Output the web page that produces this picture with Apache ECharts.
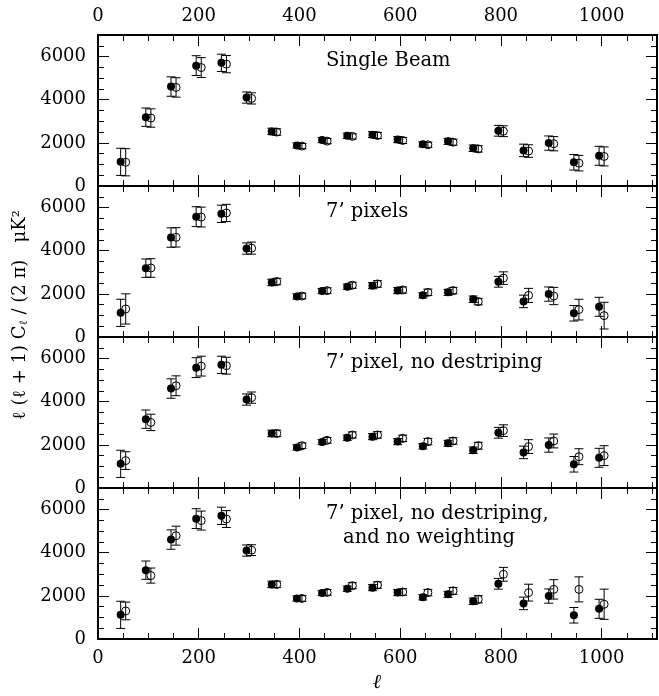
<!DOCTYPE html>
<html style="height:100%">
<head>
    <meta charset="utf-8">
    <title>Power spectrum panels</title>
    <script src="https://cdn.jsdelivr.net/npm/echarts@6/dist/echarts.min.js"></script>
</head>
<body style="height:100%;width:100%;margin:0;background:#fff;">
    <div id="main" style="width:659px;height:696px;margin:0"></div>
    <script type="text/javascript">
        // multipole bins
        var ells = [50, 100, 150, 200, 250, 300, 350, 400, 450, 500, 550, 600, 650, 700, 750, 800, 850, 900, 950, 1000];
        var dl = 5; // filled points drawn at l-5, open points at l+5

        // reference (filled) band powers, same in every panel
        var filledVals = [1120, 3190, 4610, 5580, 5710, 4100, 2530, 1880, 2130, 2330, 2380, 2150, 1930, 2070, 1750, 2560, 1650, 1990, 1100, 1400];
        var filledErr  = [630, 425, 450, 460, 400, 260, 150, 120, 120, 120, 140, 140, 120, 140, 150, 250, 290, 330, 360, 440];

        // open points, one array per panel
        var openBeam   = [1100, 3150, 4570, 5490, 5650, 4060, 2500, 1850, 2080, 2300, 2340, 2110, 1910, 2030, 1720, 2540, 1620, 1960, 1060, 1370];
        var openBeamErr = [630, 425, 450, 460, 400, 260, 150, 120, 120, 120, 140, 140, 120, 140, 150, 250, 290, 330, 360, 440];
        var openPix    = [1300, 3200, 4620, 5560, 5750, 4120, 2570, 1900, 2150, 2400, 2460, 2180, 2070, 2150, 1640, 2730, 1930, 1900, 1270, 990];
        var openPixErr = [700, 430, 450, 460, 400, 280, 150, 130, 130, 140, 150, 140, 150, 150, 150, 290, 325, 400, 480, 620];
        var openNoDs   = [1270, 3040, 4740, 5650, 5670, 4190, 2530, 1960, 2210, 2460, 2460, 2300, 2150, 2180, 1960, 2660, 1920, 2180, 1450, 1500];
        var openNoDsErr = [410, 380, 460, 460, 390, 260, 150, 130, 130, 140, 150, 150, 150, 150, 160, 270, 320, 320, 370, 460];
        var openNoW    = [1300, 2940, 4790, 5490, 5560, 4120, 2530, 1880, 2160, 2470, 2500, 2180, 2150, 2230, 1840, 3000, 2150, 2300, 2300, 1610];
        var openNoWErr = [410, 350, 440, 440, 390, 250, 150, 130, 130, 140, 150, 150, 150, 160, 170, 320, 390, 450, 580, 700];

        var panelLabels = [
            ['Single Beam'],
            ['7\u2019 pixels'],
            ['7\u2019 pixel, no destriping'],
            ['7\u2019 pixel, no destriping,', 'and no weighting']
        ];
        var openSets = [[openBeam, openBeamErr], [openPix, openPixErr], [openNoDs, openNoDsErr], [openNoW, openNoWErr]];

        var xTickLabels = [0, 200, 400, 600, 800, 1000];
        var yTickLabels = [0, 2000, 4000, 6000];

        var FONT = 'DejaVu Serif';
        var tops = [35, 186, 337, 488];
        var panelH = 151;

        function renderErr(params, api) {
            var x = api.value(0), y = api.value(1), e = api.value(2);
            var a = api.coord([x, y + e]), b = api.coord([x, y - e]);
            var w = 4.5;
            var st = {stroke: '#000', lineWidth: 1};
            return {
                type: 'group',
                children: [
                    {type: 'line', shape: {x1: a[0], y1: a[1], x2: b[0], y2: b[1]}, style: st},
                    {type: 'line', shape: {x1: a[0] - w, y1: a[1], x2: a[0] + w, y2: a[1]}, style: st},
                    {type: 'line', shape: {x1: b[0] - w, y1: b[1], x2: b[0] + w, y2: b[1]}, style: st}
                ]
            };
        }

        function xAx(i, pos, major, labels) {
            return {
                gridIndex: i, type: 'value', position: pos, min: 0, max: 1110,
                interval: major ? 200 : 50,
                axisLine: {show: major, onZero: false, lineStyle: {color: '#000', width: 2}},
                axisTick: {show: true, inside: true, length: major ? 11 : 6, lineStyle: {color: '#000', width: 1}},
                axisLabel: {
                    show: labels, margin: 10, color: '#000', fontFamily: FONT, fontSize: 18,
                    formatter: function (v) { return xTickLabels.indexOf(v) >= 0 ? String(v) : ''; }
                },
                splitLine: {show: false}
            };
        }

        function yAx(i, pos, major, labels) {
            return {
                gridIndex: i, type: 'value', position: pos, min: 0, max: 7000,
                interval: major ? 2000 : 500,
                axisLine: {show: major, onZero: false, lineStyle: {color: '#000', width: 2}},
                axisTick: {show: true, inside: true, length: major ? 11 : 6, lineStyle: {color: '#000', width: 1}},
                axisLabel: {
                    show: labels, margin: 12, color: '#000', fontFamily: FONT, fontSize: 18,
                    formatter: function (v) { return yTickLabels.indexOf(v) >= 0 ? String(v) : ''; }
                },
                splitLine: {show: false}
            };
        }

        var grids = [], xAxes = [], yAxes = [], series = [], graphics = [];

        for (var i = 0; i < 4; i++) {
            grids.push({left: 98, right: 2, top: tops[i], height: panelH, outerBoundsMode: 'none'});
            xAxes.push(xAx(i, 'bottom', true, i === 3));
            xAxes.push(xAx(i, 'bottom', false, false));
            xAxes.push(xAx(i, 'top', true, i === 0));
            xAxes.push(xAx(i, 'top', false, false));
            yAxes.push(yAx(i, 'left', true, true));
            yAxes.push(yAx(i, 'left', false, false));
            yAxes.push(yAx(i, 'right', true, false));
            yAxes.push(yAx(i, 'right', false, false));

            var filledData = ells.map(function (l, k) { return [l - dl, filledVals[k], filledErr[k]]; });
            var ov = openSets[i][0], oe = openSets[i][1];
            var openData = ells.map(function (l, k) { return [l + dl, ov[k], oe[k]]; });

            series.push({type: 'custom', xAxisIndex: 4 * i, yAxisIndex: 4 * i, renderItem: renderErr,
                encode: {x: 0, y: 1}, data: filledData, silent: true, z: 2});
            series.push({type: 'custom', xAxisIndex: 4 * i, yAxisIndex: 4 * i, renderItem: renderErr,
                encode: {x: 0, y: 1}, data: openData, silent: true, z: 2});
            series.push({type: 'scatter', xAxisIndex: 4 * i, yAxisIndex: 4 * i, symbol: 'circle', symbolSize: 8,
                data: openData, z: 3,
                itemStyle: {color: 'rgba(0,0,0,0)', borderColor: '#000', borderWidth: 1, opacity: 1}});
            series.push({type: 'scatter', xAxisIndex: 4 * i, yAxisIndex: 4 * i, symbol: 'circle', symbolSize: 8,
                data: filledData, z: 4,
                itemStyle: {color: '#000', opacity: 1}});

            var lines = panelLabels[i];
            for (var j = 0; j < lines.length; j++) {
                graphics.push({
                    type: 'text', left: j === 0 ? 326 : 343, top: tops[i] + 16 + j * 24,
                    style: {text: lines[j], font: '19.5px "' + FONT + '"', fill: '#000'}
                });
            }
        }

        // y axis title
        graphics.push({
            type: 'text', x: 20, y: 315, rotation: Math.PI / 2,
            style: {
                text: '\u2113 (\u2113 + 1) C{s|\u2113} / (2 \u03c0)   \u03bcK\u00b2',
                font: '18px "' + FONT + '"', fill: '#000', align: 'center', verticalAlign: 'middle',
                rich: {s: {fontSize: 11, fontFamily: FONT, padding: [9, 0, 0, 0]}}
            }
        });
        // x axis title
        graphics.push({
            type: 'text', x: 377, y: 683,
            style: {text: '\u2113', font: 'italic 20px "' + FONT + '"', fill: '#000', align: 'center', verticalAlign: 'middle'}
        });

        var myChart = echarts.init(document.getElementById('main'));
        myChart.setOption({
            animation: false,
            backgroundColor: '#fff',
            grid: grids,
            xAxis: xAxes,
            yAxis: yAxes,
            series: series,
            graphic: graphics
        });
    </script>
</body>
</html>
